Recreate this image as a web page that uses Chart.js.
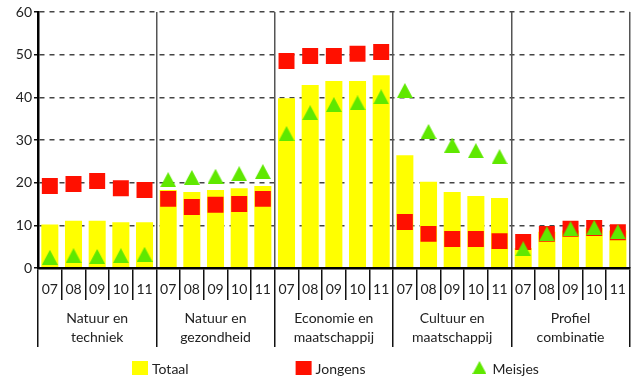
<!DOCTYPE html>
<html><head><meta charset="utf-8">
<script src="https://cdn.jsdelivr.net/npm/chart.js@4.4.0/dist/chart.umd.min.js"></script>
<style>html,body{margin:0;padding:0;background:#fff}#wrap{width:641px;height:376px}</style>
</head><body><div id="wrap"><canvas id="c" width="641" height="376"></canvas></div>
<script>
// ---- data ----
const yearLabels = ['07','08','09','10','11','07','08','09','10','11','07','08','09','10','11','07','08','09','10','11','07','08','09','10','11'];
const profileLabels = [['Natuur en','techniek'],['Natuur en','gezondheid'],['Economie en','maatschappij'],['Cultuur en','maatschappij'],['Profiel','combinatie']];
const totaal  = [10.2,11.1,11.1,10.7,10.7, 18.3,17.8,18.3,18.7,19.2, 39.8,42.9,43.8,43.8,45.2, 26.4,20.2,17.8,16.9,16.4, 4.7,8.5,8.8,9.4,8.8];
const jongens = [19.2,19.7,20.4,18.7,18.3, 16.2,14.3,14.8,15.0,16.2, 48.5,49.7,49.7,50.2,50.6, 10.8,8.0,6.8,6.8,6.3, 6.1,8.0,9.2,9.4,8.4];
const meisjes = [2.5,2.9,2.7,2.9,3.2, 20.7,21.2,21.5,22.1,22.6, 31.5,36.4,38.3,38.7,40.1, 41.6,32.0,28.8,27.5,26.1, 4.5,8.0,9.2,9.5,8.5];
const seriesNames = ['Totaal','Jongens','Meisjes'];
const yMin = 0, yMax = 60, yStep = 10;

const YELLOW = '#ffff00', RED = '#ff1000', GREEN = '#5fe800', TXT = '#222';
const FONT = 'Lato';

function makeTriangle(w, h, color){
  const c = document.createElement('canvas'); c.width = w; c.height = h;
  const g = c.getContext('2d'); g.fillStyle = color;
  g.beginPath(); g.moveTo(w/2, 0); g.lineTo(w, h); g.lineTo(0, h); g.closePath(); g.fill();
  return c;
}
const triPoint = makeTriangle(16, 15, GREEN);
const triLegend = makeTriangle(14, 13, GREEN);

const legendPlugin = {
  id: 'bottomLegend',
  afterDraw(chart){
    const ctx = chart.ctx;
    ctx.save();
    ctx.font = '14px ' + FONT;
    ctx.textBaseline = 'middle';
    ctx.textAlign = 'left';
    const cy = chart.height - 8;
    let x = chart.chartArea.left + 94;
    const colors = [YELLOW, RED, GREEN];
    seriesNames.forEach((name, i) => {
      if (i === 2) {
        ctx.drawImage(triLegend, x, cy - 7);
      } else {
        ctx.fillStyle = colors[i];
        ctx.fillRect(x, cy - 7, 16, 14);
      }
      ctx.fillStyle = TXT;
      const tx = x + 20;
      ctx.fillText(name, tx, cy + 1);
      x = tx + ctx.measureText(name).width + 107;
    });
    ctx.restore();
  }
};

new Chart(document.getElementById('c'), {
  data: {
    labels: yearLabels,
    datasets: [
      { type: 'line', label: seriesNames[2], data: meisjes, showLine: false, order: 1,
        pointStyle: triPoint, pointRadius: 8, pointHoverRadius: 8, pointBorderWidth: 0,
        backgroundColor: GREEN, borderColor: GREEN },
      { type: 'line', label: seriesNames[1], data: jongens, showLine: false, order: 2,
        pointStyle: 'rect', pointRadius: 11.3, pointHoverRadius: 11.3, pointBorderWidth: 0,
        pointBackgroundColor: RED, backgroundColor: RED, borderColor: RED },
      { type: 'bar', label: seriesNames[0], data: totaal, order: 3,
        backgroundColor: YELLOW, borderWidth: 0, barPercentage: 0.72, categoryPercentage: 1 }
    ]
  },
  options: {
    responsive: false, animation: false, devicePixelRatio: 1,
    layout: { padding: { top: 12, right: 3, bottom: 26, left: 0 } },
    plugins: { legend: { display: false }, tooltip: { enabled: false } },
    scales: {
      y: {
        min: yMin, max: yMax,
        ticks: { stepSize: yStep, color: TXT, font: { family: FONT, size: 14 }, padding: 2 },
        grid: { color: '#444', lineWidth: 1.5, tickLength: 4, tickColor: '#111' },
        border: { display: true, color: '#000', width: 2.5, dash: [5, 5], z: 1 },
        afterFit: s => { s.width = 38; }
      },
      x: {
        type: 'category', offset: true,
        grid: { display: true, drawOnChartArea: false, offset: true, tickLength: 32, tickColor: '#111', lineWidth: 1.5 },
        border: { display: true, color: '#000', width: 2.5, z: 1 },
        ticks: { color: TXT, font: { family: FONT, size: 14 }, padding: -18.5, maxRotation: 0, autoSkip: false },
        afterFit: s => { s.height = 32; }
      },
      x2: {
        type: 'category', position: 'bottom', offset: true, labels: profileLabels,
        grid: { display: true, drawOnChartArea: true, offset: true, color: '#555', lineWidth: 1.5, tickLength: 47, tickColor: '#111' },
        border: { display: false },
        ticks: { color: TXT, font: { family: FONT, size: 14, lineHeight: 1.35 }, padding: -37.5, maxRotation: 0, autoSkip: false },
        afterFit: s => { s.height = 50; }
      }
    }
  },
  plugins: [legendPlugin]
});
</script>
</body></html>
